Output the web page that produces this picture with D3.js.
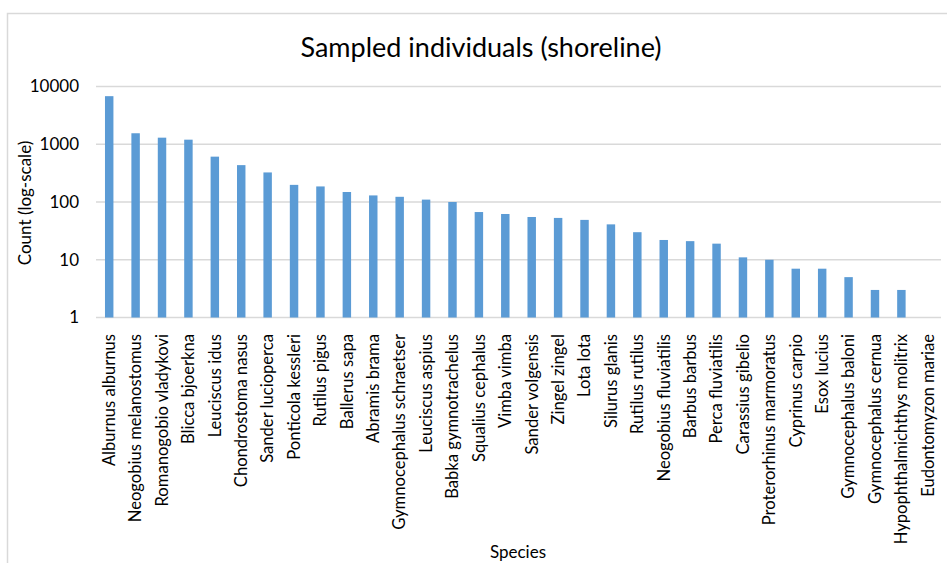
<!DOCTYPE html>
<html>
<head>
<meta charset="utf-8">
<script src="https://cdnjs.cloudflare.com/ajax/libs/d3/7.8.5/d3.min.js"></script>
<style>
  body { margin: 0; background: #fff; }
  text { font-family: Lato, "Open Sans", sans-serif; fill: #000; }
</style>
</head>
<body>
<div id="chart"></div>
<script>
(function() {

  var width = 947,
      height = 563;

  // species, in the order drawn
  var species = [
    "Alburnus alburnus", "Neogobius melanostomus", "Romanogobio vladykovi",
    "Blicca bjoerkna", "Leuciscus idus", "Chondrostoma nasus",
    "Sander lucioperca", "Ponticola kessleri", "Rutilus pigus",
    "Ballerus sapa", "Abramis brama", "Gymnocephalus schraetser",
    "Leuciscus aspius", "Babka gymnotrachelus", "Squalius cephalus",
    "Vimba vimba", "Sander volgensis", "Zingel zingel", "Lota lota",
    "Silurus glanis", "Rutilus rutilus", "Neogobius fluviatilis",
    "Barbus barbus", "Perca fluviatilis", "Carassius gibelio",
    "Proterorhinus marmoratus", "Cyprinus carpio", "Esox lucius",
    "Gymnocephalus baloni", "Gymnocephalus cernua",
    "Hypophthalmichthys molitrix", "Eudontomyzon mariae"
  ];

  var counts = [
    6800, 1550, 1300, 1200, 610, 435, 325, 198, 186, 149, 130, 123,
    110, 100, 67, 62, 55, 53, 49, 41, 30, 22, 21, 19, 11, 10, 7, 7,
    5, 3, 3, 1
  ];

  var yTicks = [1, 10, 100, 1000, 10000];

  var margin = {left: 96, right: 6, top: 86.5, bottom: 245.5};

  var svg = d3.select("#chart").append("svg")
      .attr("width", width)
      .attr("height", height);

  // chart frame (only left + top show in the crop)
  svg.append("path")
      .attr("d", "M7.5," + height + "V13.5H" + width)
      .attr("fill", "none")
      .attr("stroke", "#d9d9d9")
      .attr("stroke-width", 1.5);

  var x = d3.scaleBand()
      .domain(species)
      .range([margin.left, width - margin.right])
      .paddingInner(0.68)
      .paddingOuter(0.34);

  var y = d3.scaleLog()
      .domain([1, 10000])
      .range([height - margin.bottom, margin.top]);

  // gridlines
  svg.append("g")
    .selectAll("line")
      .data(yTicks)
    .enter().append("line")
      .attr("x1", margin.left)
      .attr("x2", width - margin.right)
      .attr("y1", function(d) { return y(d); })
      .attr("y2", function(d) { return y(d); })
      .attr("stroke", "#d9d9d9")
      .attr("stroke-width", 1.3);

  // y tick labels
  svg.append("g")
    .selectAll("text")
      .data(yTicks)
    .enter().append("text")
      .attr("x", 79)
      .attr("y", function(d) { return y(d); })
      .attr("dy", "0.35em")
      .attr("text-anchor", "end")
      .style("font-size", "17px")
      .text(function(d) { return d; });

  // bars
  svg.append("g")
    .selectAll("rect")
      .data(counts)
    .enter().append("rect")
      .attr("x", function(d, i) { return x(species[i]); })
      .attr("width", x.bandwidth())
      .attr("y", function(d) { return y(d); })
      .attr("height", function(d) { return y(1) - y(d); })
      .attr("fill", "#5b9bd5");

  // x tick labels, rotated
  svg.append("g")
    .selectAll("text")
      .data(species)
    .enter().append("text")
      .attr("text-anchor", "end")
      .attr("dy", "0.35em")
      .attr("transform", function(d) {
        return "translate(" + (x(d) + x.bandwidth() / 2) + ",334)rotate(-90)";
      })
      .style("font-size", "16.6px")
      .text(function(d) { return d; });

  // title + axis titles
  svg.append("text")
      .attr("x", 481)
      .attr("y", 57)
      .attr("text-anchor", "middle")
      .style("font-size", "27px")
      .text("Sampled individuals (shoreline)");

  svg.append("text")
      .attr("transform", "translate(31,203)rotate(-90)")
      .attr("text-anchor", "middle")
      .style("font-size", "17px")
      .text("Count (log-scale)");

  svg.append("text")
      .attr("x", 518)
      .attr("y", 558)
      .attr("text-anchor", "middle")
      .style("font-size", "17px")
      .text("Species");

})();
</script>
</body>
</html>
